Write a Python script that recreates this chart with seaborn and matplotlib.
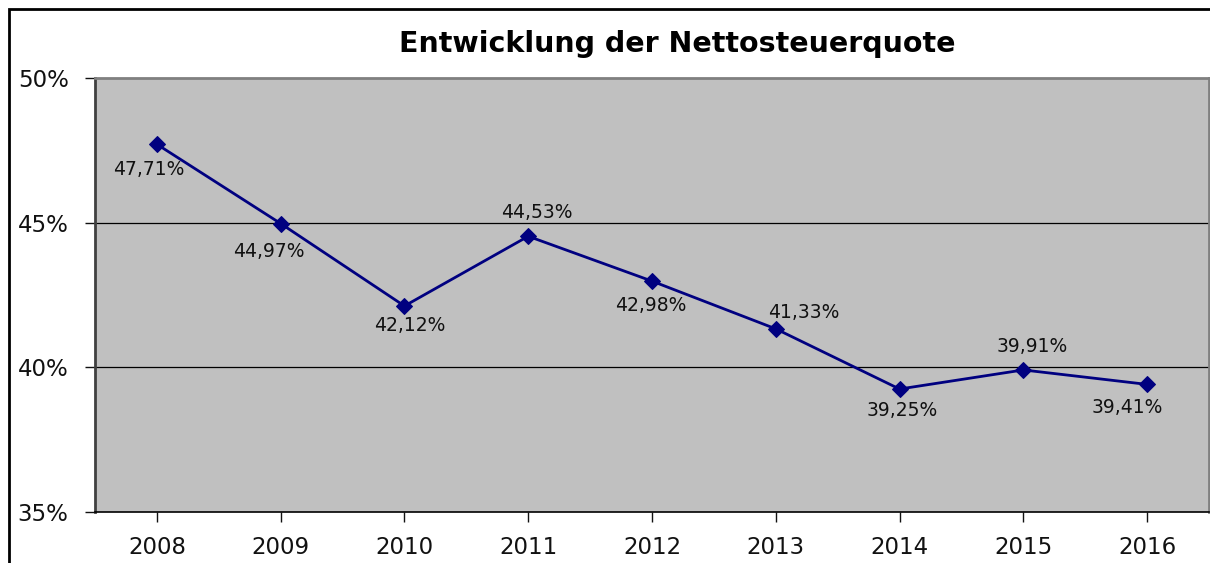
import matplotlib
matplotlib.use("Agg")
import matplotlib.pyplot as plt
import seaborn as sns
import pandas as pd
from matplotlib.patches import Rectangle
from matplotlib.ticker import FuncFormatter

years = ["2008", "2009", "2010", "2011", "2012", "2013", "2014", "2015", "2016"]
quote = [47.71, 44.97, 42.12, 44.53, 42.98, 41.33, 39.25, 39.91, 39.41]
label_text = ["47,71%", "44,97%", "42,12%", "44,53%", "42,98%", "41,33%", "39,25%", "39,91%", "39,41%"]
y_ticks = [35, 40, 45, 50]
title = "Entwicklung der Nettosteuerquote"

sns.set_theme(style="white")
plt.rcParams['font.family'] = ['DejaVu Sans']

df = pd.DataFrame({"x": range(len(years)), "y": quote})

fig = plt.figure(figsize=(12.1, 5.63), dpi=100)
ax = fig.add_axes([95/1210, 51/563, 1114/1210, 434/563])
ax.set_facecolor("#c0c0c0")

for yv in [40, 45]:
    ax.axhline(yv, color="black", lw=0.9, zorder=1)

sns.lineplot(data=df, x="x", y="y", ax=ax, color="#000080", lw=2,
             marker="D", markersize=8, markeredgecolor="#000080", zorder=3)

# label offsets in pixels (dx, dy) relative to marker
offsets = [(-8, -25), (-12, -28), (5, -20), (9, 24), (-1, -24), (28, 16), (3, -21), (9, 23), (-20, -23)]
for i, (t, (dx, dy)) in enumerate(zip(label_text, offsets)):
    ax.annotate(t, (i, quote[i]), xytext=(dx * 0.72, dy * 0.72), textcoords="offset points",
                ha="center", va="center", fontsize=13.5, color="#111111", zorder=4)

ax.set_xlim(-0.5, len(years) - 0.5)
ax.set_ylim(35, 50)
ax.set_yticks(y_ticks)
ax.yaxis.set_major_formatter(FuncFormatter(lambda v, p: f"{int(v)}%"))
ax.set_xticks(range(len(years)))
ax.set_xticklabels(years)
ax.set_xlabel("")
ax.set_ylabel("")
ax.tick_params(axis="both", labelsize=16.5, colors="#111111", length=7, width=1, direction="out",
               left=True, bottom=True)
ax.tick_params(axis="y", pad=12)
ax.tick_params(axis="x", pad=10)

for s in ["top", "right", "left"]:
    ax.spines[s].set_color("#808080")
    ax.spines[s].set_linewidth(2)
ax.spines["bottom"].set_color("black")
ax.spines["bottom"].set_linewidth(1.2)
ax.spines["left"].set_color("#404040")

fig.text(677/1210, 1 - 44/563, title, ha="center", va="center", fontsize=20.5,
         fontweight="bold", color="black")

fig.patches.append(Rectangle((8.5/1210, -0.1), 1.2, 1 - 8.5/563 + 0.1, transform=fig.transFigure,
                             fill=False, edgecolor="black", lw=2))

fig.savefig("out.png", dpi=100)
